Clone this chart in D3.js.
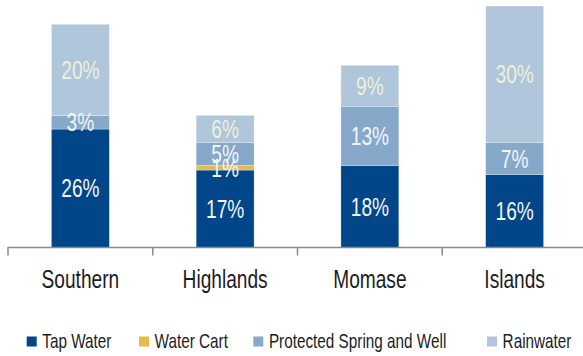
<!DOCTYPE html>
<html>
<head>
<meta charset="utf-8">
<script src="https://cdn.jsdelivr.net/npm/d3@7/dist/d3.min.js"></script>
<style>
  html, body { margin: 0; padding: 0; background: #fff; }
  svg { display: block; }
  text { font-family: "Liberation Sans", Arial, sans-serif; }
</style>
</head>
<body>
<svg id="chart" width="583" height="356"></svg>
<script>
// Main source of drinking water by region (% of households)
const regions = ["Southern", "Highlands", "Momase", "Islands"];
const sources = ["Tap Water", "Water Cart", "Protected Spring and Well", "Rainwater"];
const tapWater = [26, 17, 18, 16];
const waterCart = [0, 1, 0, 0];
const protectedSpring = [3, 5, 13, 7];
const rainwater = [20, 6, 9, 30];

const colors = ["#02468a", "#e9b94a", "#86a9c9", "#afc6db"];
const labelColors = ["#f4f4f4", "#f4f4f4", "#f4f4f4", "#eef0da"];

const W = 583, H = 356;
const svg = d3.select("#chart");

const rows = regions.map((r, i) => ({
  region: r,
  "Tap Water": tapWater[i],
  "Water Cart": waterCart[i],
  "Protected Spring and Well": protectedSpring[i],
  "Rainwater": rainwater[i]
}));
const stacked = d3.stack().keys(sources)(rows);

const x = d3.scaleBand().domain(regions).range([8, 587]).padding(0);
const y = d3.scaleLinear().domain([0, 54]).range([247.5, 1.5]);
const barW = x.bandwidth() * 0.4;
const squeeze = 0.765; // condensed face

// Bars
const layers = svg.append("g").selectAll("g")
  .data(stacked).join("g")
  .attr("fill", (d, i) => colors[i]);

layers.selectAll("rect")
  .data(d => d.map(p => ({ p, key: d.key })))
  .join("rect")
  .filter(d => d.p[1] > d.p[0])
  .attr("x", d => x(d.p.data.region) + x.bandwidth() / 2 - barW / 2)
  .attr("width", barW)
  .attr("y", d => y(d.p[1]))
  .attr("height", d => y(d.p[0]) - y(d.p[1]))
  .attr("stroke", "#ffffff")
  .attr("stroke-opacity", 0.45)
  .attr("stroke-width", 0.6);

// Value labels
const valFs = 25;
stacked.forEach((layer, li) => {
  svg.append("g").selectAll("text")
    .data(layer.filter(p => p[1] > p[0]))
    .join("text")
    .attr("transform", p => {
      const cx = x(p.data.region) + x.bandwidth() / 2;
      const cy = (y(p[0]) + y(p[1])) / 2 + valFs * 0.36;
      return `translate(${cx},${cy}) scale(${squeeze},1)`;
    })
    .attr("text-anchor", "middle")
    .attr("font-size", valFs)
    .attr("fill", labelColors[li])
    .text(p => (p[1] - p[0]) + "%");
});

// Category axis
const axisY = y(0);
const axisG = svg.append("g").attr("stroke", "#8a8a8a").attr("stroke-width", 1.5);
axisG.append("line").attr("x1", 7.5).attr("x2", W).attr("y1", axisY).attr("y2", axisY);
const bounds = regions.map(r => x(r)).concat([x(regions[regions.length - 1]) + x.bandwidth()]);
axisG.selectAll("line.tick").data(bounds).join("line")
  .attr("class", "tick")
  .attr("x1", d => d).attr("x2", d => d)
  .attr("y1", axisY).attr("y2", axisY + 8);

svg.append("g").selectAll("text")
  .data(regions).join("text")
  .attr("transform", r => `translate(${x(r) + x.bandwidth() / 2},${287.5}) scale(${squeeze},1)`)
  .attr("text-anchor", "middle")
  .attr("font-size", 25)
  .attr("fill", "#1c1c1c")
  .text(r => r);

// Legend
const legendStarts = [26.7, 139, 253.3, 487];
const legend = svg.append("g");
sources.forEach((s, i) => {
  const g = legend.append("g").attr("transform", `translate(${legendStarts[i]},0)`);
  g.append("rect").attr("x", 0).attr("y", 336.5).attr("width", 10).attr("height", 10).attr("fill", colors[i]);
  g.append("text")
    .attr("transform", `translate(15.6,347.5) scale(${squeeze},1)`)
    .attr("font-size", 20)
    .attr("fill", "#1c1c1c")
    .text(s);
});
</script>
</body>
</html>
